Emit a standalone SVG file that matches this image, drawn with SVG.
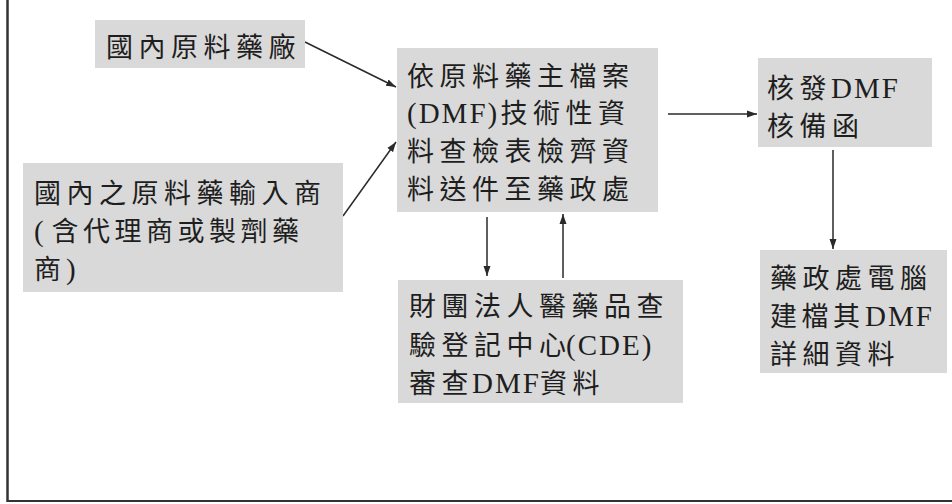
<svg xmlns="http://www.w3.org/2000/svg" width="952" height="504" viewBox="0 0 952 504">
<style>
.box{fill:#d9d9d9;stroke:none}
.t{font-family:"Liberation Serif","Noto Sans CJK TC",serif;font-size:27px;fill:#1e1e1e;letter-spacing:5.5px}
.l{font-size:29px;letter-spacing:2px}
.c{stroke:#2a2a2a;stroke-width:1.5;fill:none;marker-end:url(#ah)}
.frame{stroke:#333;fill:none}
</style>
<defs>
<marker id="ah" markerUnits="userSpaceOnUse" markerWidth="11" markerHeight="8" refX="10" refY="4" orient="auto">
<path d="M0,0.5 L10,4 L0,7.5 z" fill="#2a2a2a"/>
</marker>
</defs>
<rect width="952" height="504" fill="#ffffff"/>
<g id="frame">
<line class="frame" x1="7.5" y1="0" x2="7.5" y2="502" stroke-width="2.5"/>
<line class="frame" x1="7" y1="501" x2="952" y2="501" stroke-width="2" stroke="#555"/>
</g>
<g id="connectors">
<line class="c" x1="305" y1="42" x2="396" y2="87"/>
<line class="c" x1="343" y1="216" x2="396" y2="142"/>
<line class="c" x1="668" y1="114" x2="757" y2="114"/>
<line class="c" x1="833" y1="150" x2="833" y2="249"/>
<line class="c" x1="487" y1="217" x2="487" y2="276"/>
<line class="c" x1="563" y1="278" x2="563" y2="214"/>
</g>
<g id="n1">
<rect class="box" x="95" y="20" width="210" height="48"/>
<text class="t" x="106" y="57">國內原料藥廠</text>
</g>
<g id="n2">
<rect class="box" x="23" y="163" width="320" height="129"/>
<text class="t" x="34" y="203">國內之原料藥輸入商</text>
<text class="t" y="241"><tspan class="l" x="34">(</tspan><tspan x="51.5" style="letter-spacing:4.5px">含代理商或製劑藥</tspan></text>
<text class="t" y="279"><tspan x="34">商</tspan><tspan class="l" x="66">)</tspan></text>
</g>
<g id="n3">
<rect class="box" x="397" y="48" width="261" height="164"/>
<text class="t" x="407" y="86">依原料藥主檔案</text>
<text class="t" y="123"><tspan class="l" x="407">(DMF)</tspan><tspan x="500.5">技術性資</tspan></text>
<text class="t" x="407" y="161">料查檢表檢齊資</text>
<text class="t" x="407" y="199">料送件至藥政處</text>
</g>
<g id="n4">
<rect class="box" x="758" y="58" width="174" height="89"/>
<text class="t" y="98"><tspan x="767">核發</tspan><tspan class="l" x="831">DMF</tspan></text>
<text class="t" x="767" y="136">核備函</text>
</g>
<g id="n5">
<rect class="box" x="398" y="280" width="285" height="123"/>
<text class="t" x="409" y="316">財團法人醫藥品查</text>
<text class="t" y="355"><tspan x="409">驗登記中心</tspan><tspan class="l" x="566">(CDE)</tspan></text>
<text class="t" y="393"><tspan x="409">審查</tspan><tspan class="l" x="472">DMF</tspan><tspan x="540">資料</tspan></text>
</g>
<g id="n6">
<rect class="box" x="760" y="250" width="187" height="123"/>
<text class="t" x="770" y="288">藥政處電腦</text>
<text class="t" y="326"><tspan x="770" style="letter-spacing:4.5px">建檔其</tspan><tspan class="l" x="865">DMF</tspan></text>
<text class="t" x="770" y="364">詳細資料</text>
</g>
</svg>
